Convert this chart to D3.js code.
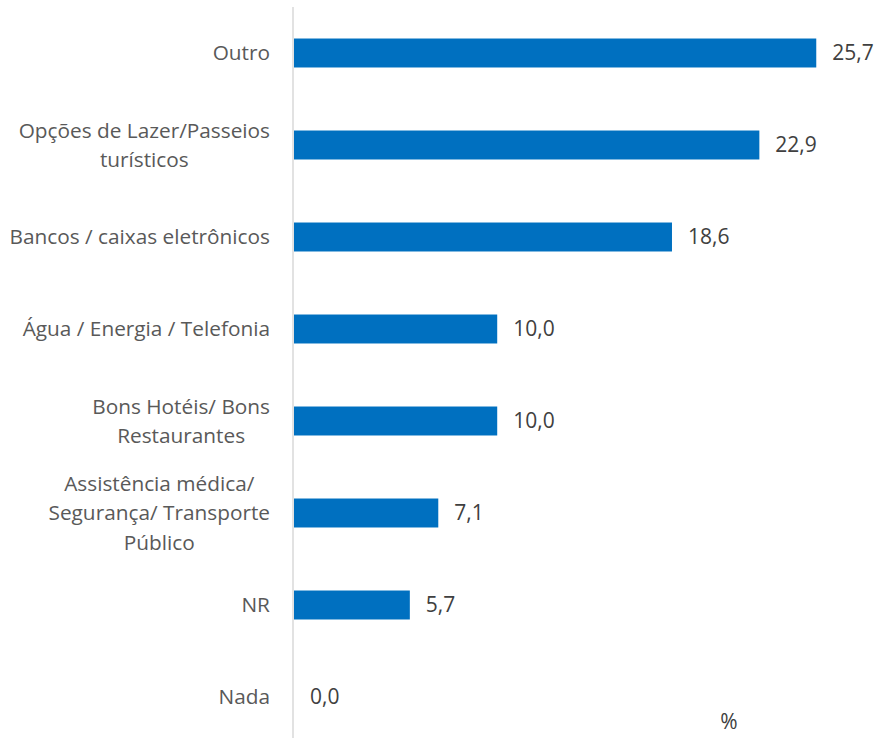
<!DOCTYPE html>
<html><head><meta charset="utf-8">
<script src="https://cdn.jsdelivr.net/npm/d3@7"></script>
<style>body{margin:0;background:#fff}svg{display:block}</style>
</head><body>
<svg id="c" width="875" height="738"></svg>
<script>
const categories = ["Outro","Opções de Lazer/Passeios\nturísticos","Bancos / caixas eletrônicos","Água / Energia / Telefonia","Bons Hotéis/ Bons\nRestaurantes","Assistência médica/\nSegurança/ Transporte\nPúblico","NR","Nada"];
const values = [25.7,22.9,18.6,10.0,10.0,7.1,5.7,0.0];
const unitLabel = "%";

const svg = d3.select("#c");
const font = "'Open Sans', sans-serif";
const x = d3.scaleLinear().domain([0,28]).range([294,863]);
const y = d3.scaleBand().domain(categories).range([7,743]).paddingInner(0.685).paddingOuter(0.3425);
const fmt = v => d3.format(".1f")(v).replace(".", ",");

svg.selectAll("rect.bar").data(values).join("rect")
  .attr("x", x(0)).attr("y",(d,i)=>y(categories[i]))
  .attr("width", d=>x(d)-x(0)).attr("height", y.bandwidth())
  .attr("fill","#0070C0");

svg.append("line").attr("x1",293).attr("x2",293).attr("y1",7).attr("y2",738)
  .attr("stroke","#d9d9d9").attr("stroke-width",1.5);

// category labels: block right-aligned, lines centered
const lineH = 29.5;
categories.forEach((c,i)=>{
  const lines = c.split("\n");
  const cy = y(c)+y.bandwidth()/2;
  const g = svg.append("g");
  const t = g.append("text").attr("font-family",font).attr("font-size",20.8).attr("fill","#595959")
    .attr("text-anchor","middle");
  lines.forEach((l,k)=>{
    t.append("tspan").attr("x",0).attr("y", cy + (k-(lines.length-1)/2)*lineH).attr("dy","0.35em").text(l);
  });
  const bb = t.node().getBBox();
  g.attr("transform",`translate(${270 - bb.width/2},0)`);
});

svg.selectAll("text.val").data(values).join("text")
  .attr("x", d=>x(d)+16).attr("y",(d,i)=>y(categories[i])+y.bandwidth()/2)
  .attr("dy","0.35em").attr("font-family",font).attr("font-size",21).attr("fill","#404040")
  .text(d=>fmt(d));

svg.append("text").attr("x",729).attr("y",722).attr("dy","0.35em").attr("text-anchor","middle")
  .attr("font-family",font).attr("font-size",21).attr("fill","#404040").text(unitLabel);
</script>
</body></html>
